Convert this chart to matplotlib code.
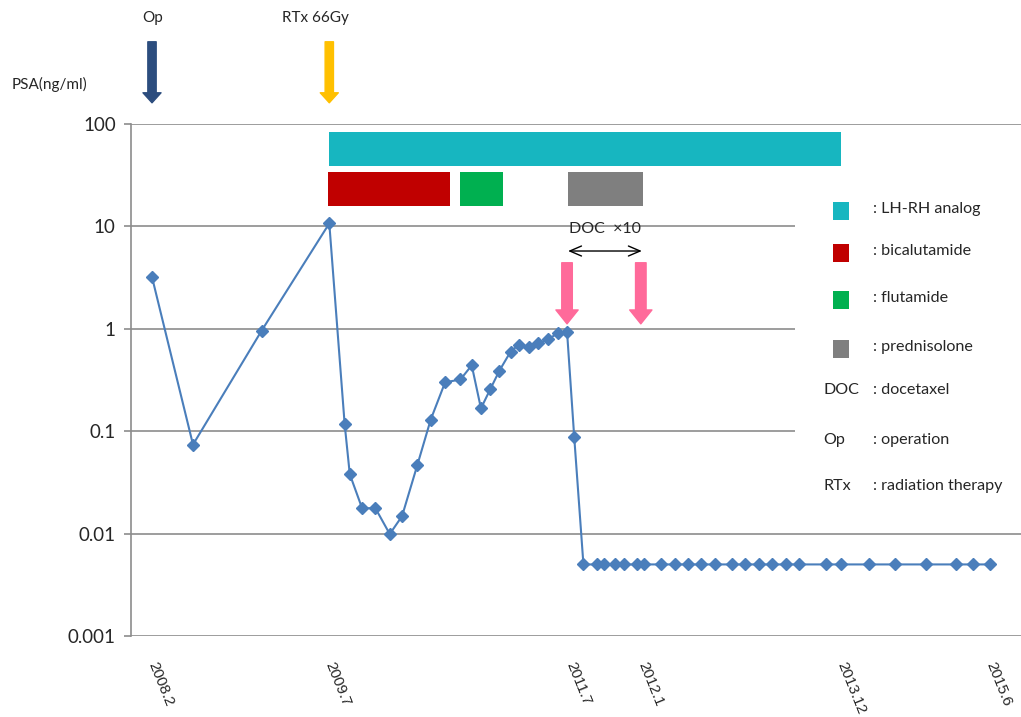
import matplotlib
matplotlib.use('Agg')
import matplotlib.pyplot as plt
from matplotlib.patches import Rectangle

# months from first visit (2008.2)
months = [0.0, 4.0, 10.7, 17.3, 18.8, 19.3, 20.5, 21.8, 23.2, 24.4, 25.9, 27.2,
          28.6, 30.1, 31.2, 32.1, 33.0, 33.9, 35.0, 35.8, 36.8, 37.7, 38.6, 39.6,
          40.5, 41.2, 42.1, 43.4, 44.1, 45.2, 46.1, 47.3, 48.0, 49.7, 51.0, 52.3,
          53.6, 54.9, 56.6, 57.9, 59.2, 60.5, 61.9, 63.1, 65.8, 67.2, 70.0, 72.5,
          75.5, 78.5, 80.1, 81.8]
psa = [3.2, 0.074, 0.96, 10.7, 0.117, 0.038, 0.0177, 0.0177, 0.0099, 0.0148, 0.047, 0.13,
       0.30, 0.32, 0.44, 0.167, 0.256, 0.39, 0.60, 0.70, 0.66, 0.72, 0.79, 0.90,
       0.94, 0.088, 0.005, 0.005, 0.005, 0.005, 0.005, 0.005, 0.005, 0.005, 0.005, 0.005,
       0.005, 0.005, 0.005, 0.005, 0.005, 0.005, 0.005, 0.005, 0.005, 0.005, 0.005, 0.005,
       0.005, 0.005, 0.005, 0.005]

tick_months = [0.0, 17.3, 40.8, 47.8, 67.2, 81.8]
tick_labels = ['2008.2', '2009.7', '2011.7', '2012.1', '2013.12', '2015.6']

# treatment periods: (start, end, low, high)
drug_names = ['LH-RH analog', 'bicalutamide', 'flutamide', 'prednisolone']
drug_colors = ['#17B6C0', '#C00000', '#00B050', '#7F7F7F']
drug_start = [17.3, 17.2, 30.1, 40.6]
drug_end = [67.2, 29.1, 34.3, 47.9]
drug_low = [38.9, 15.8, 15.8, 15.8]
drug_high = [84.0, 34.2, 34.2, 34.2]

doc_months = [40.5, 47.7]
doc_span = [40.6, 47.8]

W, H = 1021, 717
GRID = '#8C8C8C'

plt.rcParams['font.family'] = ['Lato', 'DejaVu Sans']

fig = plt.figure(figsize=(W / 100, H / 100), dpi=100)
ax = fig.add_axes([131 / W, 1 - 636 / H, (W - 131) / W, 512 / H])

ax.set_yscale('log')
ax.set_ylim(0.001, 100)
ax.set_xlim(-2.05, 84.8)
ax.set_axisbelow(True)

ax.set_yticks([0.001, 0.01, 0.1, 1, 10, 100])
ax.set_yticklabels(['0.001', '0.01', '0.1', '1', '10', '100'], fontsize=13.5, color='#262626')
ax.minorticks_off()
ax.yaxis.grid(True, color=GRID, linewidth=1.2)
ax.tick_params(axis='y', length=5, color=GRID, width=1.2, pad=6)

ax.set_xticks(tick_months)
ax.set_xticklabels(tick_labels, rotation=-68, fontsize=11, family='Liberation Sans',
                   ha='left', va='center', rotation_mode='anchor', color='#262626')
ax.tick_params(axis='x', length=0, pad=19)

for side in ['top', 'right', 'bottom']:
    ax.spines[side].set_visible(False)
ax.spines['left'].set_color(GRID)
ax.spines['left'].set_linewidth(1.2)

# white panel behind the legend hides the grid there
ax.add_patch(Rectangle(((795 - 131) / (W - 131), (636 - 505) / 512),
                       (W - 795) / (W - 131), 330 / 512,
                       transform=ax.transAxes, facecolor='white', edgecolor='none', zorder=1))

# treatment bars
for s, e, lo, hi, c in zip(drug_start, drug_end, drug_low, drug_high, drug_colors):
    ax.bar(s, hi - lo, bottom=lo, width=e - s, align='edge', color=c, zorder=2)

ax.plot(months, psa, color='#4A7EBB', linewidth=1.5, marker='D', markersize=6,
        markerfacecolor='#4A7EBB', markeredgecolor='#4A7EBB', zorder=3)

# Op / RTx arrows above the plot
top_arrow = 'simple,head_length=0.36,head_width=0.65,tail_width=0.3'
for x, c, lab, lx in [(0.0, '#2C4D7E', 'Op', 0.1), (17.3, '#FFC000', 'RTx 66Gy', 15.9)]:
    ax.annotate('', xy=(x, 1.036), xytext=(x, 1.166),
                xycoords=('data', 'axes fraction'), textcoords=('data', 'axes fraction'),
                arrowprops=dict(arrowstyle=top_arrow, color=c, mutation_scale=20),
                annotation_clip=False)
    ax.text(lx, 1.207, lab, transform=ax.get_xaxis_transform(), ha='center', va='center',
            fontsize=11, color='#262626')

# docetaxel arrows
pink = '#FF6A9A'
for x in doc_months:
    ax.annotate('', xy=(x, 1.05), xytext=(x, 4.7),
                arrowprops=dict(arrowstyle='simple,head_length=0.5,head_width=0.8,tail_width=0.38',
                                color=pink, mutation_scale=20), zorder=4)
ax.annotate('', xy=(doc_span[0], 5.75), xytext=(doc_span[1], 5.75),
            arrowprops=dict(arrowstyle='<->,head_length=0.7,head_width=0.3',
                            color='black', lw=1, mutation_scale=12, shrinkA=0, shrinkB=0))
ax.text(sum(doc_span) / 2, 9.4, 'DOC  \u00d710', ha='center', va='center', fontsize=11.5,
        color='#262626')

fig.text(12 / W, 1 - 84 / H, 'PSA(ng/ml)', ha='left', va='center', fontsize=11, color='#262626')

# legend
leg_y = [211, 253, 300, 349]
for name, c, y in zip(drug_names, drug_colors, leg_y):
    fig.patches.append(Rectangle((833 / W, 1 - (y + 9) / H), 16 / W, 18 / H,
                                 transform=fig.transFigure, facecolor=c, edgecolor='none'))
    fig.text(873 / W, 1 - (y - 2) / H, ': ' + name, ha='left', va='center', fontsize=11.6,
             color='#262626')
for abbr, name, y in [('DOC', 'docetaxel', 390), ('Op', 'operation', 440),
                      ('RTx', 'radiation therapy', 486)]:
    fig.text(823 / W, 1 - y / H, abbr, ha='left', va='center', fontsize=11.6, color='#262626')
    fig.text(873 / W, 1 - y / H, ': ' + name, ha='left', va='center', fontsize=11.6,
             color='#262626')

fig.savefig('out.png', dpi=100)
